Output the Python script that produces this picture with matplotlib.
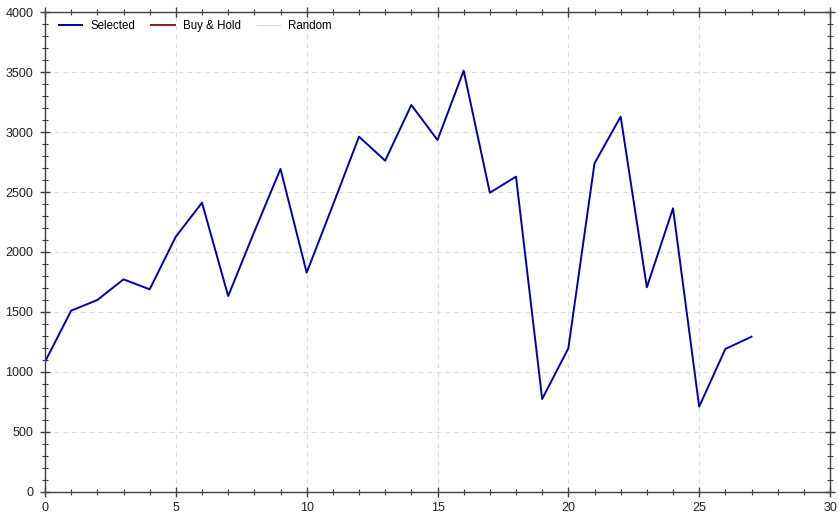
import matplotlib
matplotlib.use("Agg")
import matplotlib.pyplot as plt
from matplotlib.ticker import MultipleLocator

plt.rcParams['font.family'] = ['Liberation Sans', 'DejaVu Sans']

periods = list(range(28))
selected = [1085, 1511, 1600, 1772, 1689, 2128, 2411, 1633, 2170, 2692,
            1828, 2390, 2961, 2761, 3225, 2933, 3511, 2494, 2628, 775,
            1197, 2739, 3128, 1706, 2364, 711, 1192, 1294]
buy_hold = []
random_vals = []

fig = plt.figure(figsize=(8.39, 5.17), dpi=100)
ax = fig.add_axes([45 / 839, 25 / 517, 785 / 839, 480 / 517])

ax.plot(periods, selected, color="#0000b0", lw=1.4, label="Selected")
ax.plot(periods[:len(buy_hold)], buy_hold, color="#8b1a1a", lw=1.4, label="Buy & Hold")
ax.plot(periods[:len(random_vals)], random_vals, color="#dcdcdc", lw=1.0, label="Random")

ax.set_xlim(0, 30)
ax.set_ylim(0, 4000)
ax.xaxis.set_major_locator(MultipleLocator(5))
ax.xaxis.set_minor_locator(MultipleLocator(1))
ax.yaxis.set_major_locator(MultipleLocator(500))
ax.yaxis.set_minor_locator(MultipleLocator(100))

ax.grid(True, which="major", color="#dadada", ls=(0, (4, 4)), lw=0.8)
ax.set_axisbelow(True)

for s in ax.spines.values():
    s.set_color("#404040")
    s.set_linewidth(1.0)

ax.tick_params(which="both", direction="inout", colors="#404040",
               labelcolor="#222222", labelsize=9, top=True, right=True)
ax.tick_params(which="major", length=7, width=1.0)
ax.tick_params(which="minor", length=4, width=0.8)
ax.tick_params(axis="y", pad=5)
ax.tick_params(axis="x", pad=4)

ax.legend(loc="upper left", ncol=3, frameon=False, fontsize=8.3,
          handlelength=2.0, columnspacing=1.4, handletextpad=0.7,
          borderaxespad=0.3, bbox_to_anchor=(0.008, 1.0))

fig.savefig("out.png", dpi=100)
